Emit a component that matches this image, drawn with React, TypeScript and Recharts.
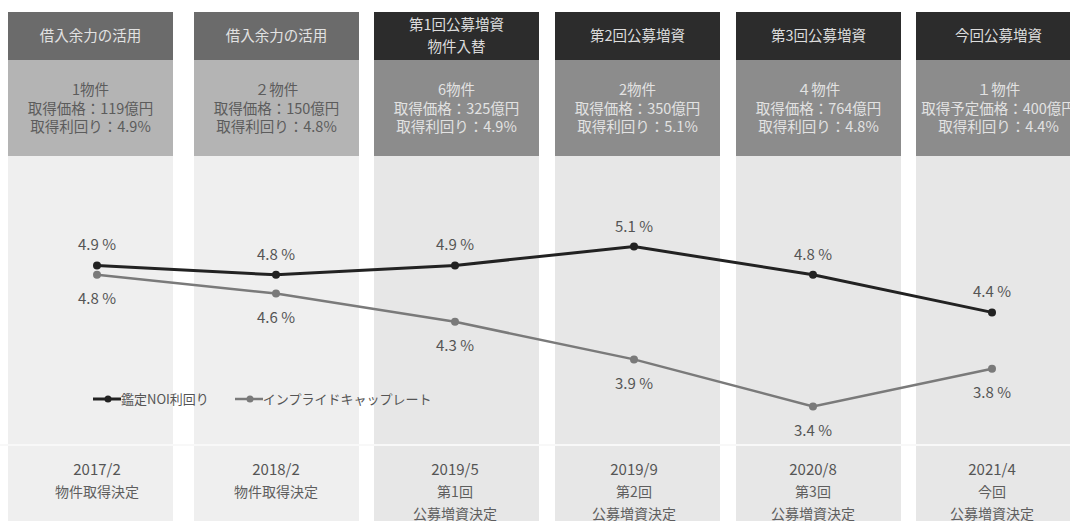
import React from 'react';
import { LineChart, Line, XAxis, YAxis, LabelList, Legend } from 'recharts';

const categories = ['2017/2', '2018/2', '2019/5', '2019/9', '2020/8', '2021/4'];
const subLabels = [
  ['物件取得決定'],
  ['物件取得決定'],
  ['第1回', '公募増資決定'],
  ['第2回', '公募増資決定'],
  ['第3回', '公募増資決定'],
  ['今回', '公募増資決定'],
];
const noiYield = [4.9, 4.8, 4.9, 5.1, 4.8, 4.4];
const impliedCap = [4.8, 4.6, 4.3, 3.9, 3.4, 3.8];
const seriesNames = ['鑑定NOI利回り', 'インプライドキャップレート'];
const headerTitles = [
  ['借入余力の活用'],
  ['借入余力の活用'],
  ['第1回公募増資', '物件入替'],
  ['第2回公募増資'],
  ['第3回公募増資'],
  ['今回公募増資'],
];
const headerDetails = [
  ['1物件', '取得価格：119億円', '取得利回り：4.9%'],
  ['２物件', '取得価格：150億円', '取得利回り：4.8%'],
  ['6物件', '取得価格：325億円', '取得利回り：4.9%'],
  ['2物件', '取得価格：350億円', '取得利回り：5.1%'],
  ['４物件', '取得価格：764億円', '取得利回り：4.8%'],
  ['１物件', '取得予定価格：400億円', '取得利回り：4.4%'],
];
// which columns are "public offering" style (dark)
const darkColumn = [false, false, true, true, true, true];

const data = categories.map((c, i) => ({ cat: c, noi: noiYield[i], cap: impliedCap[i] }));

const FONT = '"Noto Sans CJK JP", "Noto Sans", sans-serif';
const W = 1070;
const H = 521;
const colLefts = [8, 194, 374, 555, 736, 916];
const colW = 165;

const Background = () => (
  <svg width={W} height={H} style={{ position: 'absolute', left: 0, top: 0 }}>
    <rect x={0} y={0} width={W} height={H} fill="#ffffff" />
    {colLefts.map((x, i) => {
      const dark = darkColumn[i];
      const cx = x + colW / 2;
      const titles = headerTitles[i];
      return (
        <g key={i}>
          <rect x={x} y={156} width={colW} height={H - 156} fill={dark ? '#e7e7e7' : '#efefef'} />
          <rect x={x} y={12} width={colW} height={48} fill={dark ? '#2c2c2c' : '#6b6b6b'} />
          <rect x={x} y={60} width={colW} height={96} fill={dark ? '#8c8c8c' : '#b4b4b4'} />
          {titles.map((t, j) => (
            <text
              key={j}
              x={cx}
              y={titles.length === 1 ? 41 : 30 + j * 22}
              textAnchor="middle"
              fontSize={14.5}
              fontFamily={FONT}
              fill={dark ? '#dcdcdc' : '#e2e2e2'}
            >
              {t}
            </text>
          ))}
          {headerDetails[i].map((t, j) => (
            <text
              key={j}
              x={cx}
              y={95 + j * 18.5}
              textAnchor="middle"
              fontSize={14.5}
              fontFamily={FONT}
              fill={dark ? '#e2e2e2' : '#5c5c5c'}
            >
              {t}
            </text>
          ))}
        </g>
      );
    })}
    <rect x={0} y={444} width={W} height={2} fill="#f8f8f8" />
  </svg>
);

const XTick = (props: any) => {
  const { x, y, payload } = props;
  const idx = categories.indexOf(payload.value);
  const subs = idx >= 0 ? subLabels[idx] : [];
  return (
    <g>
      <text x={x} y={y + 31} textAnchor="middle" fontSize={15} fontFamily={FONT} fill="#555">
        {payload.value}
      </text>
      {subs.map((s: string, j: number) => (
        <text key={j} x={x} y={y + 53 + j * 21.5} textAnchor="middle" fontSize={14} fontFamily={FONT} fill="#5e5e5e">
          {s}
        </text>
      ))}
    </g>
  );
};

const lineColors = ['#222222', '#7a7a7a'];

const LegendContent = () => (
  <div style={{ display: 'flex', alignItems: 'center', fontFamily: FONT, fontSize: 13, color: '#555', whiteSpace: 'nowrap' }}>
    {seriesNames.map((n, i) => (
      <div key={i} style={{ display: 'flex', alignItems: 'center', marginRight: 26 }}>
        <svg width={28} height={10}>
          <line x1={0} y1={5} x2={28} y2={5} stroke={lineColors[i]} strokeWidth={i === 0 ? 3 : 2.5} />
          <circle cx={15} cy={5} r={3.5} fill={lineColors[i]} />
        </svg>
        <span>{n}</span>
      </div>
    ))}
  </div>
);

export default function App() {
  return (
    <div style={{ position: 'absolute', left: 0, top: 0, width: W, height: H, overflow: 'hidden' }}>
      <Background />
      <div style={{ position: 'absolute', left: 0, top: 0 }}>
        <LineChart width={W} height={H} data={data} margin={{ top: 209, right: 78, bottom: 0, left: 97 }}>
          <XAxis
            dataKey="cat"
            scale="point"
            padding={{ left: 0, right: 0 }}
            height={77}
            axisLine={false}
            tickLine={false}
            tickSize={0}
            tickMargin={0}
            interval={0}
            tick={<XTick />}
          />
          <YAxis hide domain={[3, 5.5]} />
          <Legend
            layout="horizontal"
            verticalAlign="middle"
            align="center"
            content={<LegendContent />}
            wrapperStyle={{ position: 'absolute', left: 93, top: 389, width: 'auto' }}
          />
          <Line
            type="linear"
            dataKey="cap"
            name={seriesNames[1]}
            stroke={lineColors[1]}
            strokeWidth={2.5}
            dot={{ r: 4, fill: lineColors[1], stroke: lineColors[1], strokeWidth: 0 }}
            activeDot={false}
            isAnimationActive={false}
          >
            <LabelList
              dataKey="cap"
              position="bottom"
              offset={19}
              fill="#555"
              fontSize={15}
              fontFamily={FONT}
              formatter={(v: any) => `${v} %`}
            />
          </Line>
          <Line
            type="linear"
            dataKey="noi"
            name={seriesNames[0]}
            stroke={lineColors[0]}
            strokeWidth={3}
            dot={{ r: 4, fill: lineColors[0], stroke: lineColors[0], strokeWidth: 0 }}
            activeDot={false}
            isAnimationActive={false}
          >
            <LabelList
              dataKey="noi"
              position="top"
              offset={15}
              fill="#555"
              fontSize={15}
              fontFamily={FONT}
              formatter={(v: any) => `${v} %`}
            />
          </Line>
        </LineChart>
      </div>
    </div>
  );
}
